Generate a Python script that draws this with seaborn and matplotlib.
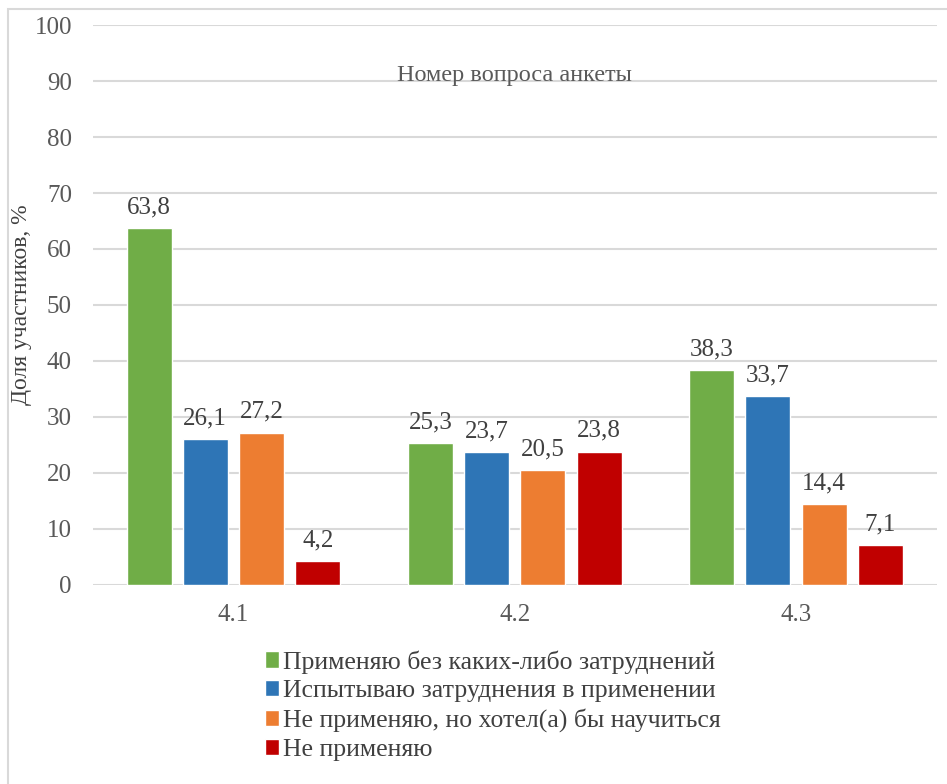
import pandas as pd
import matplotlib
matplotlib.use("Agg")
import matplotlib.pyplot as plt
import seaborn as sns
from matplotlib.patches import Rectangle

# данные по вопросам анкеты
questions = ["4.1", "4.2", "4.3"]
answers = ["Применяю без каких-либо затруднений",
           "Испытываю затруднения в применении",
           "Не применяю, но хотел(а) бы научиться",
           "Не применяю"]
no_problems = [63.8, 25.3, 38.3]
difficulties = [26.1, 23.7, 33.7]
want_to_learn = [27.2, 20.5, 14.4]
not_using = [4.2, 23.8, 7.1]

colors = ["#70AD47", "#2E75B6", "#ED7D31", "#C00000"]

rows = []
for ans, vals in zip(answers, [no_problems, difficulties, want_to_learn, not_using]):
    for q, v in zip(questions, vals):
        rows.append({"Вопрос": q, "Ответ": ans, "Доля": v})
df = pd.DataFrame(rows)

sns.set_style("white")
fam = ['Liberation Serif', 'DejaVu Serif']
plt.rcParams['font.family'] = fam
txt = "#595959"

fig = plt.figure(figsize=(9.47, 7.84), dpi=100)
ax = fig.add_axes([0.098, 0.254, 0.891, 0.714])

sns.barplot(data=df, x="Вопрос", y="Доля", hue="Ответ", order=questions,
            hue_order=answers, palette=colors, width=0.8, gap=0.2,
            saturation=1, errorbar=None, ax=ax)

for cont in ax.containers:
    ax.bar_label(cont, labels=[f"{b.get_height():.1f}".replace(".", ",") for b in cont],
                 padding=7, fontsize=18, color="#404040", family=fam)

ax.set_ylim(0, 100)
ax.set_xlim(-0.5, 2.5)
ax.set_yticks(range(0, 101, 10))
ax.yaxis.grid(True, color="#D9D9D9", linewidth=1.5)
ax.set_axisbelow(True)
for s in ax.spines.values():
    s.set_visible(False)
ax.tick_params(axis="y", length=0, labelsize=18, colors=txt, pad=15)
ax.tick_params(axis="x", length=0, labelsize=18, colors=txt, pad=14)
for lab in ax.get_xticklabels() + ax.get_yticklabels():
    lab.set_family(fam)
ax.set_xlabel("")
ax.set_ylabel("Доля участников, %", fontsize=17, color="#404040", labelpad=2, family=fam)
ax.text(0.5, 0.9, "Номер вопроса анкеты", transform=ax.transAxes,
        ha="center", va="baseline", fontsize=17.5, color=txt, family=fam)

ax.legend(loc="upper left", bbox_to_anchor=(265 / 947, 1 - 650 / 784),
          bbox_transform=fig.transFigure, borderaxespad=0, borderpad=0,
          frameon=False, prop={"family": fam, "size": 18.5},
          handlelength=0.55, handleheight=0.6,
          handletextpad=0.15, labelspacing=0.25, labelcolor="#404040")

# рамка вокруг диаграммы
fig.patches.append(Rectangle((8 / 947, -0.05), 1.1, 1 - 9 / 784 + 0.05,
                             transform=fig.transFigure, fill=False,
                             edgecolor="#D9D9D9", linewidth=1.5))

fig.savefig("out.png", dpi=100)
